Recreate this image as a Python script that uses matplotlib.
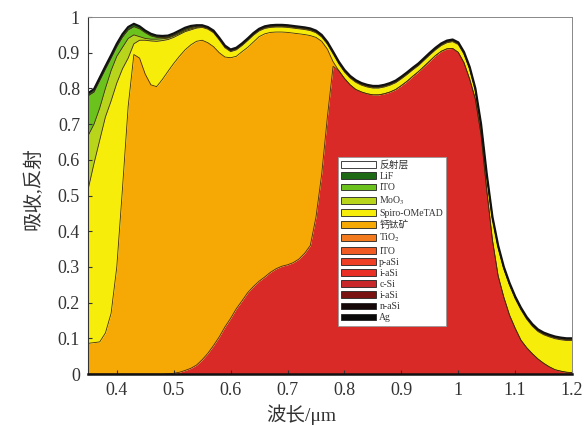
import numpy as np
import matplotlib.pyplot as plt
from matplotlib.patches import Patch
from matplotlib.ticker import FuncFormatter

plt.rcParams['font.family'] = ['Liberation Serif', 'Noto Sans CJK SC']
plt.rcParams['mathtext.fontset'] = 'stix'

# wavelength grid (um), 0.01 step
wl = np.linspace(0.35, 1.20, 86)

# cumulative boundaries (top of each layer)
absorb_total = [0.787, 0.798, 0.830, 0.862, 0.893, 0.925, 0.952, 0.972, 0.981, 0.974,
                0.962, 0.953, 0.948, 0.947, 0.948, 0.954, 0.962, 0.970, 0.975, 0.977,
                0.977, 0.972, 0.962, 0.942, 0.920, 0.909, 0.914, 0.926, 0.940, 0.955,
                0.967, 0.974, 0.977, 0.978, 0.978, 0.977, 0.975, 0.973, 0.971, 0.968,
                0.962, 0.950, 0.930, 0.903, 0.875, 0.852, 0.835, 0.823, 0.815, 0.810,
                0.807, 0.807, 0.810, 0.815, 0.822, 0.833, 0.845, 0.858, 0.870, 0.885,
                0.900, 0.914, 0.926, 0.934, 0.937, 0.929, 0.902, 0.860, 0.800, 0.700,
                0.560, 0.440, 0.360, 0.300, 0.255, 0.217, 0.186, 0.160, 0.140, 0.125,
                0.116, 0.110, 0.105, 0.102, 0.100, 0.100]
ito_top = [0.780, 0.790, 0.822, 0.854, 0.885, 0.917, 0.944, 0.964, 0.973, 0.967,
           0.956, 0.947, 0.943, 0.942, 0.943, 0.949, 0.957, 0.965, 0.970, 0.974,
           0.975, 0.970, 0.960, 0.940, 0.918, 0.907, 0.912, 0.924, 0.938, 0.953,
           0.965, 0.972, 0.975, 0.976, 0.976, 0.975, 0.973, 0.971, 0.969, 0.966,
           0.960, 0.948, 0.928, 0.901, 0.873, 0.850, 0.833, 0.821, 0.813, 0.808,
           0.805, 0.805, 0.808, 0.813, 0.820, 0.831, 0.843, 0.856, 0.868, 0.883,
           0.898, 0.912, 0.924, 0.932, 0.935, 0.927, 0.900, 0.858, 0.798, 0.698,
           0.558, 0.438, 0.358, 0.298, 0.253, 0.215, 0.184, 0.158, 0.138, 0.123,
           0.114, 0.108, 0.103, 0.100, 0.098, 0.098]
moo3_top = [0.669, 0.700, 0.745, 0.800, 0.850, 0.890, 0.915, 0.940, 0.950, 0.945,
            0.940, 0.938, 0.938, 0.939, 0.941, 0.947, 0.954, 0.962, 0.967, 0.971,
            0.973, 0.968, 0.958, 0.938, 0.916, 0.905, 0.910, 0.922, 0.936, 0.951,
            0.963, 0.970, 0.973, 0.974, 0.974, 0.973, 0.971, 0.969, 0.967, 0.964,
            0.958, 0.946, 0.926, 0.899, 0.871, 0.848, 0.831, 0.819, 0.811, 0.806,
            0.803, 0.803, 0.806, 0.811, 0.818, 0.829, 0.841, 0.854, 0.866, 0.881,
            0.896, 0.910, 0.922, 0.930, 0.933, 0.925, 0.898, 0.856, 0.796, 0.696,
            0.556, 0.436, 0.356, 0.296, 0.251, 0.213, 0.182, 0.156, 0.136, 0.121,
            0.112, 0.106, 0.101, 0.098, 0.096, 0.096]
spiro_top = [0.520, 0.590, 0.655, 0.720, 0.765, 0.815, 0.855, 0.885, 0.925, 0.935,
             0.935, 0.933, 0.932, 0.934, 0.937, 0.943, 0.951, 0.959, 0.964, 0.969,
             0.971, 0.966, 0.956, 0.936, 0.914, 0.903, 0.908, 0.920, 0.934, 0.949,
             0.961, 0.968, 0.971, 0.972, 0.972, 0.971, 0.969, 0.967, 0.965, 0.962,
             0.956, 0.944, 0.924, 0.897, 0.869, 0.846, 0.829, 0.817, 0.809, 0.804,
             0.801, 0.801, 0.804, 0.809, 0.816, 0.827, 0.839, 0.852, 0.864, 0.879,
             0.894, 0.908, 0.920, 0.928, 0.931, 0.923, 0.896, 0.854, 0.794, 0.694,
             0.554, 0.434, 0.354, 0.294, 0.249, 0.211, 0.180, 0.154, 0.134, 0.119,
             0.110, 0.104, 0.099, 0.096, 0.094, 0.094]
pvk_top = [0.086, 0.088, 0.090, 0.115, 0.170, 0.300, 0.520, 0.750, 0.895, 0.885,
           0.840, 0.810, 0.805, 0.825, 0.848, 0.870, 0.890, 0.908, 0.922, 0.932,
           0.935, 0.928, 0.917, 0.900, 0.888, 0.886, 0.890, 0.903, 0.915, 0.930,
           0.945, 0.953, 0.957, 0.958, 0.958, 0.957, 0.955, 0.953, 0.951, 0.948,
           0.943, 0.932, 0.910, 0.875, 0.850, 0.828, 0.810, 0.797, 0.790, 0.785,
           0.782, 0.782, 0.785, 0.790, 0.797, 0.808, 0.820, 0.834, 0.847, 0.862,
           0.877, 0.892, 0.904, 0.911, 0.912, 0.901, 0.872, 0.826, 0.770, 0.670,
           0.515, 0.375, 0.275, 0.215, 0.165, 0.128, 0.095, 0.074, 0.057, 0.042,
           0.030, 0.020, 0.012, 0.008, 0.005, 0.004]
csi_top = [0.0, 0.0, 0.0, 0.0, 0.0, 0.0, 0.0, 0.0, 0.0, 0.0,
           0.0, 0.0, 0.0, 0.0, 0.001, 0.002, 0.005, 0.010, 0.016, 0.025,
           0.040, 0.058, 0.080, 0.104, 0.132, 0.156, 0.183, 0.205, 0.228, 0.245,
           0.260, 0.272, 0.285, 0.295, 0.302, 0.306, 0.312, 0.322, 0.338, 0.360,
           0.440, 0.560, 0.720, 0.862, 0.850, 0.828, 0.810, 0.797, 0.790, 0.785,
           0.782, 0.782, 0.785, 0.790, 0.797, 0.808, 0.820, 0.834, 0.847, 0.862,
           0.877, 0.892, 0.904, 0.911, 0.912, 0.901, 0.872, 0.826, 0.770, 0.670,
           0.515, 0.375, 0.275, 0.215, 0.165, 0.128, 0.095, 0.074, 0.057, 0.042,
           0.030, 0.020, 0.012, 0.008, 0.005, 0.004]

layer_names = ['反射层', 'LiF', 'ITO', 'MoO$_3$', 'Spiro-OMeTAD', '钙钛矿', 'TiO$_2$',
               'ITO', 'p-aSi', 'i-aSi', 'c-Si', 'i-aSi', 'n-aSi', 'Ag']
layer_colors = ['#ffffff', '#1e6a14', '#6cc21c', '#b8d51c', '#f6ee0a', '#f6a805', '#f47a1e',
                '#f25a24', '#ee3e24', '#ea3026', '#c8282a', '#7a1212', '#160808', '#0a0a0a']

fig = plt.figure(figsize=(5.85, 4.26), dpi=100)
ax = fig.add_axes([0.151, 0.122, 0.827, 0.838])

bounds = [np.zeros(len(wl)), csi_top, pvk_top, spiro_top, moo3_top, ito_top, absorb_total]
fills = ['#da2a28', '#f6a805', '#f6ee0a', '#b8d51c', '#6cc21c', '#1e6a14']
for i in range(6):
    ax.fill_between(wl, bounds[i], bounds[i + 1], color=fills[i], lw=0)
for b in bounds[1:-1]:
    ax.plot(wl, b, color='#4a2a0a', lw=0.6)
ax.plot(wl, absorb_total, color='#111111', lw=1.6)

ax.set_xlim(0.35, 1.2)
ax.set_ylim(0, 1)
ax.set_xticks([0.4, 0.5, 0.6, 0.7, 0.8, 0.9, 1.0, 1.1, 1.2])
ax.set_yticks([0, 0.1, 0.2, 0.3, 0.4, 0.5, 0.6, 0.7, 0.8, 0.9, 1.0])
fmt = FuncFormatter(lambda v, p: '%g' % round(v, 2))
ax.xaxis.set_major_formatter(fmt)
ax.yaxis.set_major_formatter(fmt)
ax.tick_params(direction='in', length=3, width=0.8, labelsize=13, colors='#333333', pad=6)

ax.spines['bottom'].set_linewidth(1.8)
ax.spines['bottom'].set_color('#111111')
ax.spines['left'].set_color('#333333')
for s in ['top', 'right']:
    ax.spines[s].set_color('#888888')
    ax.spines[s].set_linewidth(0.7)

ax.set_xlabel('波长/μm', fontsize=14, color='#333333', labelpad=2)
ax.xaxis.set_label_coords(0.44, -0.085)
ax.set_ylabel('吸收,反射', fontsize=14, color='#333333')
ax.yaxis.set_label_coords(-0.095, 0.52)

handles = [Patch(facecolor=c, edgecolor='#222222', lw=0.6) for c in layer_colors]
leg = ax.legend(handles, layer_names, loc='upper left', bbox_to_anchor=(0.516, 0.608),
                fontsize=7, handlelength=3.6, handleheight=0.7, labelspacing=0.22,
                handletextpad=0.3, borderpad=0.35, borderaxespad=0, fancybox=False,
                framealpha=1, edgecolor='#999999')
leg.get_frame().set_linewidth(0.6)
for t in leg.get_texts():
    t.set_color('#333333')

fig.savefig('out.png', dpi=100)
